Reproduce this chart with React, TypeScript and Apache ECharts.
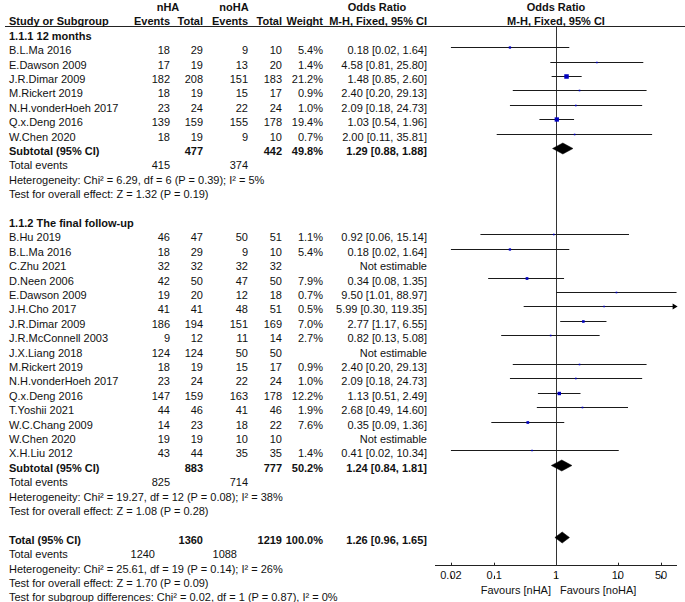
import React, { useEffect, useRef } from 'react';
import * as echarts from 'echarts';

// ---------- DATA ----------
const subgroupTitles = ['1.1.1 12 months', '1.1.2 The final follow-up'];

const g1Studies = ['B.L.Ma 2016', 'E.Dawson 2009', 'J.R.Dimar 2009', 'M.Rickert 2019', 'N.H.vonderHoeh 2017', 'Q.x.Deng 2016', 'W.Chen 2020'];
const g1NhaEvents = [18, 17, 182, 18, 23, 139, 18];
const g1NhaTotal = [29, 19, 208, 19, 24, 159, 19];
const g1NohaEvents = [9, 13, 151, 15, 22, 155, 9];
const g1NohaTotal = [10, 20, 183, 17, 24, 178, 10];
const g1Weight = [5.4, 1.4, 21.2, 0.9, 1.0, 19.4, 0.7];
const g1OR = [0.18, 4.58, 1.48, 2.40, 2.09, 1.03, 2.00];
const g1Lower = [0.02, 0.81, 0.85, 0.20, 0.18, 0.54, 0.11];
const g1Upper = [1.64, 25.80, 2.60, 29.13, 24.73, 1.96, 35.81];

const g2Studies = ['B.Hu 2019', 'B.L.Ma 2016', 'C.Zhu 2021', 'D.Neen 2006', 'E.Dawson 2009', 'J.H.Cho 2017', 'J.R.Dimar 2009', 'J.R.McConnell 2003', 'J.X.Liang 2018', 'M.Rickert 2019', 'N.H.vonderHoeh 2017', 'Q.x.Deng 2016', 'T.Yoshii 2021', 'W.C.Chang 2009', 'W.Chen 2020', 'X.H.Liu 2012'];
const g2NhaEvents = [46, 18, 32, 42, 19, 41, 186, 9, 124, 18, 23, 147, 44, 14, 19, 43];
const g2NhaTotal = [47, 29, 32, 50, 20, 41, 194, 12, 124, 19, 24, 159, 46, 23, 19, 44];
const g2NohaEvents = [50, 9, 32, 47, 12, 48, 151, 11, 50, 15, 22, 163, 41, 18, 10, 35];
const g2NohaTotal = [51, 10, 32, 50, 18, 51, 169, 14, 50, 17, 24, 178, 46, 22, 10, 35];
const g2Weight = [1.1, 5.4, null, 7.9, 0.7, 0.5, 7.0, 2.7, null, 0.9, 1.0, 12.2, 1.9, 7.6, null, 1.4];
const g2OR = [0.92, 0.18, null, 0.34, 9.50, 5.99, 2.77, 0.82, null, 2.40, 2.09, 1.13, 2.68, 0.35, null, 0.41];
const g2Lower = [0.06, 0.02, null, 0.08, 1.01, 0.30, 1.17, 0.13, null, 0.20, 0.18, 0.51, 0.49, 0.09, null, 0.02];
const g2Upper = [15.14, 1.64, null, 1.35, 88.97, 119.35, 6.55, 5.08, null, 29.13, 24.73, 2.49, 14.60, 1.36, null, 10.34];

const subNhaTotal = [477, 883];
const subNohaTotal = [442, 777];
const subWeight = [49.8, 50.2];
const subOR = [1.29, 1.24];
const subLower = [0.88, 0.84];
const subUpper = [1.88, 1.81];
const subNhaEvents = [415, 825];
const subNohaEvents = [374, 714];
const subHeterogeneity = [
  'Heterogeneity: Chi² = 6.29, df = 6 (P = 0.39); I² = 5%',
  'Heterogeneity: Chi² = 19.27, df = 12 (P = 0.08); I² = 38%',
];
const subOverallEffect = ['Test for overall effect: Z = 1.32 (P = 0.19)', 'Test for overall effect: Z = 1.08 (P = 0.28)'];

const totalNhaTotal = 1360;
const totalNohaTotal = 1219;
const totalWeight = 100.0;
const totalOR = 1.26;
const totalLower = 0.96;
const totalUpper = 1.65;
const totalNhaEvents = 1240;
const totalNohaEvents = 1088;
const totalHeterogeneity = 'Heterogeneity: Chi² = 25.61, df = 19 (P = 0.14); I² = 26%';
const totalOverallEffect = 'Test for overall effect: Z = 1.70 (P = 0.09)';
const subgroupDifferences = 'Test for subgroup differences: Chi² = 0.02, df = 1 (P = 0.87), I² = 0%';

const tickValues = [0.02, 0.1, 1, 10, 50];
const tickLabels = ['0.02', '0.1', '1', '10', '50'];
const favoursLeft = 'Favours [nHA]';
const favoursRight = 'Favours [noHA]';

// ---------- LAYOUT ----------
const FONT = '"Liberation Sans", Arial, sans-serif';
const FS = 11;
const TXT = '#111';
const LOGMIN = -1.95;
const LOGMAX = 1.95;
const PLOT_LEFT = 435.4;
const PLOT_WIDTH = 241.2;
const ROW_TOP = 4;
const ROW_MAX = 41;
const ROW_H = 14.4;
const COL = { study: 9, nhaEv: 170, nhaTot: 203, nohaEv: 248, nohaTot: 282, weight: 323, or: 427, orHead: 377, nhaHead: 168, nohaHead: 234, plotHead: 556 };
const OVERALL_EV = { nha: 155, noha: 237 };

type TItem = { text: string; x: number; row: number; align: string; bold?: boolean };
type Mark = { row: number; or: number; lo: number; hi: number; w: number; diamond: boolean };

const fmtCI = (o: number, l: number, h: number) => `${o.toFixed(2)} [${l.toFixed(2)}, ${h.toFixed(2)}]`;

function build() {
  const texts: TItem[] = [];
  const marks: Mark[] = [];
  // headers
  texts.push({ text: 'nHA', x: COL.nhaHead, row: 0, align: 'center', bold: true });
  texts.push({ text: 'noHA', x: COL.nohaHead, row: 0, align: 'center', bold: true });
  texts.push({ text: 'Odds Ratio', x: COL.orHead, row: 0, align: 'center', bold: true });
  texts.push({ text: 'Odds Ratio', x: COL.plotHead, row: 0, align: 'center', bold: true });
  texts.push({ text: 'Study or Subgroup', x: COL.study, row: 1, align: 'left', bold: true });
  texts.push({ text: 'Events', x: COL.nhaEv, row: 1, align: 'right', bold: true });
  texts.push({ text: 'Total', x: COL.nhaTot, row: 1, align: 'right', bold: true });
  texts.push({ text: 'Events', x: COL.nohaEv, row: 1, align: 'right', bold: true });
  texts.push({ text: 'Total', x: COL.nohaTot, row: 1, align: 'right', bold: true });
  texts.push({ text: 'Weight', x: COL.weight, row: 1, align: 'right', bold: true });
  texts.push({ text: 'M-H, Fixed, 95% CI', x: COL.or, row: 1, align: 'right', bold: true });
  texts.push({ text: 'M-H, Fixed, 95% CI', x: COL.plotHead, row: 1, align: 'center', bold: true });

  const groups = [
    { s: g1Studies, ne: g1NhaEvents, nt: g1NhaTotal, oe: g1NohaEvents, ot: g1NohaTotal, w: g1Weight, or: g1OR, lo: g1Lower, hi: g1Upper },
    { s: g2Studies, ne: g2NhaEvents, nt: g2NhaTotal, oe: g2NohaEvents, ot: g2NohaTotal, w: g2Weight, or: g2OR, lo: g2Lower, hi: g2Upper },
  ];
  let row = 2;
  groups.forEach((g, gi) => {
    texts.push({ text: subgroupTitles[gi], x: COL.study, row, align: 'left', bold: true });
    row++;
    g.s.forEach((name, i) => {
      texts.push({ text: name, x: COL.study, row, align: 'left' });
      texts.push({ text: String(g.ne[i]), x: COL.nhaEv, row, align: 'right' });
      texts.push({ text: String(g.nt[i]), x: COL.nhaTot, row, align: 'right' });
      texts.push({ text: String(g.oe[i]), x: COL.nohaEv, row, align: 'right' });
      texts.push({ text: String(g.ot[i]), x: COL.nohaTot, row, align: 'right' });
      const w = g.w[i];
      const o = g.or[i];
      if (w != null && o != null) {
        texts.push({ text: w.toFixed(1) + '%', x: COL.weight, row, align: 'right' });
        texts.push({ text: fmtCI(o, g.lo[i] as number, g.hi[i] as number), x: COL.or, row, align: 'right' });
        marks.push({ row, or: o, lo: g.lo[i] as number, hi: g.hi[i] as number, w, diamond: false });
      } else {
        texts.push({ text: 'Not estimable', x: COL.or, row, align: 'right' });
      }
      row++;
    });
    texts.push({ text: 'Subtotal (95% CI)', x: COL.study, row, align: 'left', bold: true });
    texts.push({ text: String(subNhaTotal[gi]), x: COL.nhaTot, row, align: 'right', bold: true });
    texts.push({ text: String(subNohaTotal[gi]), x: COL.nohaTot, row, align: 'right', bold: true });
    texts.push({ text: subWeight[gi].toFixed(1) + '%', x: COL.weight, row, align: 'right', bold: true });
    texts.push({ text: fmtCI(subOR[gi], subLower[gi], subUpper[gi]), x: COL.or, row, align: 'right', bold: true });
    marks.push({ row, or: subOR[gi], lo: subLower[gi], hi: subUpper[gi], w: 0, diamond: true });
    row++;
    texts.push({ text: 'Total events', x: COL.study, row, align: 'left' });
    texts.push({ text: String(subNhaEvents[gi]), x: COL.nhaEv, row, align: 'right' });
    texts.push({ text: String(subNohaEvents[gi]), x: COL.nohaEv, row, align: 'right' });
    row++;
    texts.push({ text: subHeterogeneity[gi], x: COL.study, row, align: 'left' });
    row++;
    texts.push({ text: subOverallEffect[gi], x: COL.study, row, align: 'left' });
    row++;
    row++; // blank
  });
  texts.push({ text: 'Total (95% CI)', x: COL.study, row, align: 'left', bold: true });
  texts.push({ text: String(totalNhaTotal), x: COL.nhaTot, row, align: 'right', bold: true });
  texts.push({ text: String(totalNohaTotal), x: COL.nohaTot, row, align: 'right', bold: true });
  texts.push({ text: totalWeight.toFixed(1) + '%', x: COL.weight, row, align: 'right', bold: true });
  texts.push({ text: fmtCI(totalOR, totalLower, totalUpper), x: COL.or, row, align: 'right', bold: true });
  marks.push({ row, or: totalOR, lo: totalLower, hi: totalUpper, w: 0, diamond: true });
  row++;
  texts.push({ text: 'Total events', x: COL.study, row, align: 'left' });
  texts.push({ text: String(totalNhaEvents), x: OVERALL_EV.nha, row, align: 'right' });
  texts.push({ text: String(totalNohaEvents), x: OVERALL_EV.noha, row, align: 'right' });
  row++;
  texts.push({ text: totalHeterogeneity, x: COL.study, row, align: 'left' });
  row++;
  texts.push({ text: totalOverallEffect, x: COL.study, row, align: 'left' });
  row++;
  texts.push({ text: subgroupDifferences, x: COL.study, row, align: 'left' });
  return { texts, marks };
}

export default function App() {
  const ref = useRef<HTMLDivElement>(null);
  useEffect(() => {
    if (!ref.current) return;
    const chart = echarts.init(ref.current, undefined, { renderer: 'svg' });
    const { texts, marks } = build();
    const tickLogs = tickValues.map((v) => Math.log10(v));
    const axisBase = { type: 'value', min: LOGMIN, max: LOGMAX };
    const rowAxis = { type: 'value', min: 0, max: ROW_MAX, inverse: true, show: false };

    const option: any = {
      animation: false,
      backgroundColor: '#ffffff',
      grid: [
        { left: PLOT_LEFT, width: PLOT_WIDTH, top: ROW_TOP, height: ROW_MAX * ROW_H, containLabel: false },
        { left: 0, width: 685, top: ROW_TOP, height: ROW_MAX * ROW_H, containLabel: false },
        { left: PLOT_LEFT, width: PLOT_WIDTH, top: 555, height: 10.7, containLabel: false },
        { left: PLOT_LEFT, width: PLOT_WIDTH, top: 565.7, height: 10, containLabel: false },
      ],
      xAxis: [
        { ...axisBase, gridIndex: 0, show: false },
        { type: 'value', min: 0, max: 685, gridIndex: 1, show: false },
        {
          ...axisBase,
          gridIndex: 2,
          position: 'bottom',
          axisLine: { show: true, lineStyle: { color: '#222', width: 1 } },
          axisTick: { show: true, inside: true, length: 3, customValues: tickLogs, lineStyle: { color: '#222' } },
          axisLabel: {
            show: true,
            customValues: tickLogs,
            margin: 4,
            color: TXT,
            fontFamily: FONT,
            fontSize: FS,
            formatter: (v: number) => {
              let best = 0;
              tickLogs.forEach((t, i) => { if (Math.abs(t - v) < Math.abs(tickLogs[best] - v)) best = i; });
              return tickLabels[best];
            },
          },
          splitLine: { show: false },
        },
        {
          ...axisBase,
          gridIndex: 3,
          position: 'top',
          axisLine: { show: false },
          axisTick: { show: true, inside: true, length: 3, customValues: tickLogs, lineStyle: { color: '#222' } },
          axisLabel: { show: false },
          splitLine: { show: false },
        },
      ],
      yAxis: [
        { ...rowAxis, gridIndex: 0 },
        { ...rowAxis, gridIndex: 1 },
        { type: 'value', gridIndex: 2, show: false },
        { type: 'value', gridIndex: 3, show: false },
      ],
      graphic: [
        { type: 'line', shape: { x1: 5, y1: 26.5, x2: 685, y2: 26.5 }, style: { stroke: '#222', lineWidth: 1 }, silent: true },
        { type: 'text', x: 551, y: 589.5, style: { text: favoursLeft, align: 'right', verticalAlign: 'middle', fill: TXT, fontFamily: FONT, fontSize: FS }, silent: true },
        { type: 'text', x: 560, y: 589.5, style: { text: favoursRight, align: 'left', verticalAlign: 'middle', fill: TXT, fontFamily: FONT, fontSize: FS }, silent: true },
      ],
      series: [
        {
          type: 'custom',
          name: 'table',
          coordinateSystem: 'cartesian2d',
          xAxisIndex: 1,
          yAxisIndex: 1,
          silent: true,
          data: texts.map((t) => [t.x, t.row]),
          renderItem: (params: any, api: any) => {
            const it = texts[params.dataIndex];
            const p = api.coord([it.x, it.row]);
            return {
              type: 'text',
              x: p[0],
              y: p[1] + 3,
              style: {
                text: it.text,
                align: it.align,
                verticalAlign: 'middle',
                fill: TXT,
                fontFamily: FONT,
                fontSize: FS,
                fontWeight: it.bold ? 'bold' : 'normal',
              },
            };
          },
        },
        {
          type: 'custom',
          name: 'reference',
          coordinateSystem: 'cartesian2d',
          xAxisIndex: 0,
          yAxisIndex: 0,
          silent: true,
          data: [[0, 0]],
          renderItem: (params: any, api: any) => {
            const x = Math.round(api.coord([0, 0])[0]) + 0.5;
            return { type: 'line', shape: { x1: x, y1: 26.5, x2: x, y2: 565.7 }, style: { stroke: '#333', lineWidth: 1 } };
          },
        },
        {
          type: 'custom',
          name: 'forest',
          coordinateSystem: 'cartesian2d',
          xAxisIndex: 0,
          yAxisIndex: 0,
          silent: true,
          clip: false,
          data: marks.map((m) => [Math.log10(m.or), m.row, Math.log10(m.lo), Math.log10(m.hi), m.w]),
          renderItem: (params: any, api: any) => {
            const m = marks[params.dataIndex];
            const lo = Math.log10(m.lo);
            const hi = Math.log10(m.hi);
            const yc = Math.round(api.coord([0, m.row])[1]) + 0.5;
            const xo = api.coord([Math.log10(m.or), m.row])[0];
            const xl = api.coord([Math.max(lo, LOGMIN), m.row])[0];
            const xh = api.coord([Math.min(hi, LOGMAX), m.row])[0];
            if (m.diamond) {
              return {
                type: 'polygon',
                shape: { points: [[xl, yc], [xo, yc - 5.5], [xh, yc], [xo, yc + 5.5]] },
                style: { fill: '#000', stroke: '#000', lineWidth: 0.5 },
              };
            }
            const children: any[] = [
              { type: 'line', shape: { x1: xl, y1: yc, x2: xh, y2: yc }, style: { stroke: '#1a1a1a', lineWidth: 1 } },
            ];
            const s = Math.max(1.6, 0.98 * Math.sqrt(m.w));
            children.push({ type: 'rect', shape: { x: xo - s / 2, y: yc - s / 2, width: s, height: s }, style: { fill: '#0000c0' } });
            if (hi > LOGMAX) {
              children.push({ type: 'polygon', shape: { points: [[xh - 4, yc - 3], [xh + 1, yc], [xh - 4, yc + 3]] }, style: { fill: '#000' } });
            }
            if (lo < LOGMIN) {
              children.push({ type: 'polygon', shape: { points: [[xl + 4, yc - 3], [xl - 1, yc], [xl + 4, yc + 3]] }, style: { fill: '#000' } });
            }
            return { type: 'group', children };
          },
        },
      ],
    };
    chart.setOption(option);
    return () => chart.dispose();
  }, []);
  return <div ref={ref} style={{ position: 'fixed', left: 0, top: 0, width: 685, height: 602, background: '#fff' }} />;
}
